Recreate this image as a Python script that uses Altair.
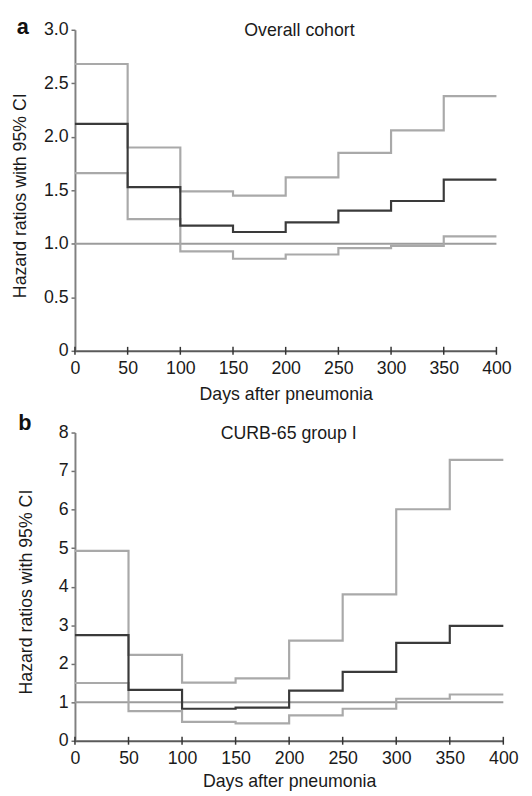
import altair as alt
import pandas as pd

# ---- data ----
days = [0, 50, 100, 150, 200, 250, 300, 350]
day_end = 400

hr_a = [2.12, 1.53, 1.17, 1.11, 1.20, 1.31, 1.40, 1.60]
lo_a = [1.66, 1.23, 0.93, 0.86, 0.90, 0.96, 0.98, 1.07]
hi_a = [2.68, 1.90, 1.49, 1.45, 1.62, 1.85, 2.06, 2.38]

hr_b = [2.74, 1.32, 0.83, 0.86, 1.30, 1.79, 2.54, 2.98]
lo_b = [1.50, 0.77, 0.49, 0.45, 0.66, 0.83, 1.09, 1.20]
hi_b = [4.93, 2.23, 1.51, 1.62, 2.60, 3.80, 6.01, 7.29]

x_ticks = [0, 50, 100, 150, 200, 250, 300, 350, 400]
ya_ticks = [0, 0.5, 1.0, 1.5, 2.0, 2.5, 3.0]
yb_ticks = [0, 1, 2, 3, 4, 5, 6, 7, 8]
ref_value = 1.0

panel_letters = ["a", "b"]
panel_titles = ["Overall cohort", "CURB-65 group I"]
x_title = "Days after pneumonia"
y_title = "Hazard ratios with 95% CI"

FONT = "Liberation Sans"
CI_COLOR = "#a9a9a9"
HR_COLOR = "#3a3a3a"
REF_COLOR = "#9c9c9c"


def make_df(lo, hi, hr):
    rows = []
    for name, vals in (("lower", lo), ("upper", hi), ("hr", hr)):
        xs = days + [day_end]
        vs = vals + [vals[-1]]
        for d, v in zip(xs, vs):
            rows.append({"day": d, "value": v, "series": name})
    return pd.DataFrame(rows)


def panel(lo, hi, hr, width, height, ydom, yticks, label_expr, letter, title,
          letter_x, letter_y, title_x, ytitle_x, xtitle_pad):
    df = make_df(lo, hi, hr)
    xenc = alt.X("day:Q",
                 scale=alt.Scale(domain=[0, 400], nice=False, zero=False),
                 axis=alt.Axis(values=x_ticks, title=x_title, ticks=False,
                               labelPadding=9, titlePadding=xtitle_pad, format="d",
                               labelFlush=False, labelOverlap=False,
                               domainColor="#5a5a5a"))
    yenc = alt.Y("value:Q",
                 scale=alt.Scale(domain=ydom, nice=False, zero=False),
                 axis=alt.Axis(values=yticks, tickCount=len(yticks), title=y_title,
                               labelExpr=label_expr,
                               tickSize=4, labelPadding=3, labelOverlap=False,
                               labelFlush=False,
                               titleX=ytitle_x, titleY=height / 2 + 5))
    base = alt.Chart(df)
    ci = base.transform_filter("datum.series != 'hr'").mark_line(
        interpolate="step-after", color=CI_COLOR, strokeWidth=2.2
    ).encode(x=xenc, y=yenc, detail="series:N")
    ref = alt.Chart(pd.DataFrame({"value": [ref_value]})).mark_rule(
        color=REF_COLOR, strokeWidth=2).encode(y=yenc)
    hrl = base.transform_filter("datum.series == 'hr'").mark_line(
        interpolate="step-after", color=HR_COLOR, strokeWidth=2.2
    ).encode(x=xenc, y=yenc)
    xt = alt.Chart(pd.DataFrame({"day": x_ticks})).mark_rule(
        color="#333333", strokeWidth=1.5
    ).encode(x=xenc, y=alt.value(height - 4), y2=alt.value(height + 4))
    let = alt.Chart(pd.DataFrame({"t": [letter]})).mark_text(
        font=FONT, fontSize=22, fontWeight="bold", color="#111111",
        align="center", baseline="alphabetic"
    ).encode(text="t:N", x=alt.value(letter_x), y=alt.value(letter_y))
    ttl = alt.Chart(pd.DataFrame({"t": [title]})).mark_text(
        font=FONT, fontSize=18, color="#1a1a1a",
        align="center", baseline="alphabetic"
    ).encode(text="t:N", x=alt.value(title_x), y=alt.value(6.5))
    return alt.layer(ref, ci, hrl, xt, let, ttl).properties(width=width, height=height)


pa = panel(lo_a, hi_a, hr_a, 428, 326, [0, 3], ya_ticks,
           "datum.value == 0 ? '0' : format(datum.value, '.1f')",
           panel_letters[0], panel_titles[0], -53, 4, 228, -46, 8)
pb = panel(lo_b, hi_b, hr_b, 435, 313, [0, 8], yb_ticks,
           "format(datum.value, 'd')",
           panel_letters[1], panel_titles[1], -51, -3, 217, -40, 5)

chart = alt.vconcat(pa, pb, spacing=83, bounds="flush").properties(
    padding={"left": 4, "top": 2, "right": 5, "bottom": 2}
).configure_view(stroke=None).configure_axis(
    labelFont=FONT, titleFont=FONT, labelFontSize=18, titleFontSize=18,
    titleFontWeight="normal", labelColor="#1a1a1a", titleColor="#1a1a1a",
    domainColor="#808080", domainWidth=2, tickColor="#707070", tickWidth=1.5,
    grid=False
)

chart.save("out.html", embed_options={"renderer": "svg", "actions": False})
